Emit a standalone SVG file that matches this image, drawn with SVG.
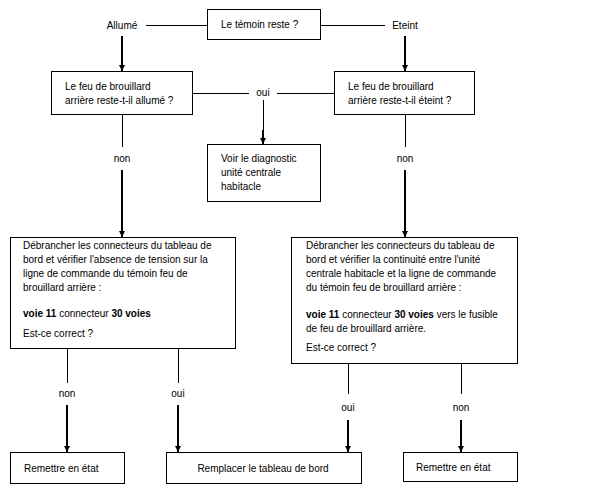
<svg xmlns="http://www.w3.org/2000/svg" width="603" height="497" viewBox="0 0 603 497">
<defs>
<marker id="ah" viewBox="0 0 6 6" refX="6" refY="3" markerWidth="6" markerHeight="6" markerUnits="userSpaceOnUse" orient="auto">
<path d="M0,0 L6,3 L0,6 z" fill="#000"/>
</marker>
</defs>
<style>
text{font-family:"Liberation Sans",Arial,sans-serif;font-size:10px;fill:#000}
.b{font-weight:bold}
.box{fill:#fff;stroke:#000;stroke-width:1}
.ln{stroke:#000;stroke-width:1;fill:none}
.ar{stroke:#000;stroke-width:2;fill:none;marker-end:url(#ah)}
.c{text-anchor:middle}
</style>
<rect width="603" height="497" fill="#fff"/>
<g id="connectors">
<line class="ln" x1="146" y1="25.5" x2="207" y2="25.5"/>
<line class="ln" x1="320" y1="25.5" x2="385" y2="25.5"/>
<line class="ar" x1="122" y1="36" x2="122" y2="71"/>
<line class="ar" x1="405" y1="36" x2="405" y2="71"/>
<line class="ln" x1="192" y1="93.5" x2="249" y2="93.5"/>
<line class="ln" x1="277" y1="93.5" x2="334" y2="93.5"/>
<line class="ln" x1="263.5" y1="100" x2="263.5" y2="132"/>
<line class="ar" x1="263" y1="130" x2="263" y2="144"/>
<line class="ln" x1="122.5" y1="114" x2="122.5" y2="147"/>
<line class="ar" x1="122" y1="170" x2="122" y2="237"/>
<line class="ln" x1="405.5" y1="114" x2="405.5" y2="147"/>
<line class="ar" x1="405" y1="170" x2="405" y2="237"/>
<line class="ln" x1="67.5" y1="348" x2="67.5" y2="383"/>
<line class="ar" x1="67" y1="405" x2="67" y2="452"/>
<line class="ln" x1="178.5" y1="348" x2="178.5" y2="383"/>
<line class="ar" x1="178" y1="405" x2="178" y2="452"/>
<line class="ln" x1="348.5" y1="363" x2="348.5" y2="394"/>
<line class="ar" x1="348" y1="420" x2="348" y2="452"/>
<line class="ln" x1="461.5" y1="363" x2="461.5" y2="394"/>
<line class="ar" x1="461" y1="420" x2="461" y2="452"/>
<text x="122" y="29" class="c">Allumé</text>
<text x="405" y="29" class="c">Eteint</text>
<text x="263" y="96" class="c">oui</text>
<text x="122" y="162" class="c">non</text>
<text x="405" y="162" class="c">non</text>
<text x="67" y="397" class="c">non</text>
<text x="178" y="397" class="c">oui</text>
<text x="348" y="411" class="c">oui</text>
<text x="461" y="411" class="c">non</text>
</g>
<g id="n-temoin">
<rect class="box" x="207.5" y="9.5" width="113" height="30"/>
<text x="221" y="28">Le témoin reste ?</text>
</g>
<g id="n-allume">
<rect class="box" x="51.5" y="71.5" width="141" height="43"/>
<text x="65" y="90">Le feu de brouillard</text>
<text x="65" y="104">arrière reste-t-il allumé ?</text>
</g>
<g id="n-eteint">
<rect class="box" x="334.5" y="71.5" width="140" height="43"/>
<text x="348" y="90">Le feu de brouillard</text>
<text x="348" y="104">arrière reste-t-il éteint ?</text>
</g>
<g id="n-diag">
<rect class="box" x="207.5" y="144.5" width="113" height="57"/>
<text x="221" y="162">Voir le diagnostic</text>
<text x="221" y="176">unité centrale</text>
<text x="221" y="190">habitacle</text>
</g>
<g id="n-test-left">
<rect class="box" x="10.5" y="237.5" width="225" height="111"/>
<text x="23" y="249">Débrancher les connecteurs du tableau de</text>
<text x="23" y="263">bord et vérifier l'absence de tension sur la</text>
<text x="23" y="277">ligne de commande du témoin feu de</text>
<text x="23" y="291">brouillard arrière :</text>
<text x="23" y="317"><tspan class="b">voie 11</tspan> connecteur <tspan class="b">30 voies</tspan></text>
<text x="23" y="337">Est-ce correct ?</text>
</g>
<g id="n-test-right">
<rect class="box" x="291.5" y="237.5" width="226" height="126"/>
<text x="306" y="249">Débrancher les connecteurs du tableau de</text>
<text x="306" y="263">bord et vérifier la continuité entre l'unité</text>
<text x="306" y="277">centrale habitacle et la ligne de commande</text>
<text x="306" y="291">du témoin feu de brouillard arrière :</text>
<text x="306" y="318"><tspan class="b">voie 11</tspan> connecteur <tspan class="b">30 voies</tspan> vers le fusible</text>
<text x="306" y="332">de feu de brouillard arrière.</text>
<text x="306" y="351">Est-ce correct ?</text>
</g>
<g id="n-remettre-left">
<rect class="box" x="10.5" y="452.5" width="114" height="31"/>
<text x="24" y="472">Remettre en état</text>
</g>
<g id="n-remplacer">
<rect class="box" x="166.5" y="452.5" width="195" height="31"/>
<text x="263" y="472" class="c">Remplacer le tableau de bord</text>
</g>
<g id="n-remettre-right">
<rect class="box" x="403.5" y="452.5" width="114" height="29"/>
<text x="416" y="471">Remettre en état</text>
</g>
</svg>
